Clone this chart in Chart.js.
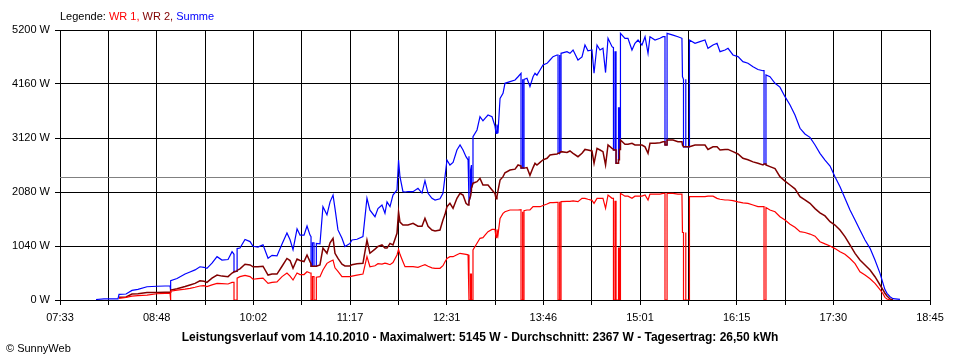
<!DOCTYPE html>
<html>
<head>
<meta charset="utf-8">
<script src="https://cdn.jsdelivr.net/npm/chart.js@4.4.0/dist/chart.umd.min.js"></script>
<style>
  html, body { margin: 0; padding: 0; background: #fff; }
  #wrap { position: relative; width: 960px; height: 360px; overflow: hidden; }
  canvas { position: absolute; left: 0; top: 0; }
  .txt { position: absolute; font-family: 'Liberation Sans', Arial, sans-serif; white-space: nowrap; color: #000; }
  #legend { left: 60px; top: 10px; font-size: 11px; line-height: 13px; }
  #title { left: 0; width: 960px; text-align: center; top: 330px; font-size: 12px; font-weight: bold; line-height: 14px; }
  #copy { left: 6px; top: 342px; font-size: 11px; line-height: 13px; }
</style>
</head>
<body>
<div id="wrap">
  <canvas id="c" width="960" height="360"></canvas>
  <div class="txt" id="legend">Legende: <span style="color:#ff0000">WR 1, </span><span style="color:#800000">WR 2, </span><span style="color:#0000ff">Summe</span></div>
  <div class="txt" id="title">Leistungsverlauf vom 14.10.2010 - Maximalwert: 5145 W - Durchschnitt: 2367 W - Tagesertrag: 26,50 kWh</div>
  <div class="txt" id="copy">© SunnyWeb</div>
</div>
<script>
// time axis in minutes since midnight (07:33 .. 18:45)
const X_MIN = 453;
const X_MAX = 1125;
const TICK_LABELS = ['07:33','08:48','10:02','11:17','12:31','13:46','15:01','16:15','17:30','18:45'];
const Y_MAX = 5200;
const Y_STEP = 1040;
const AVERAGE = 2367;

// sample times (minutes since midnight)
const times = [
480.8,487.0,497.8,498.6,504.0,508.6,513.2,520.2,527.9,534.1,
538.0,538.0,538.7,538.7,543.4,549.6,553.4,557.3,561.1,564.2,
566.5,570.4,574.3,578.1,582.8,585.9,587.4,587.4,589.8,589.8,
592.0,595.9,599.8,602.1,605.9,609.8,613.7,616.8,620.6,624.5,
628.3,630.7,633.0,636.1,638.4,641.5,643.8,646.1,646.9,646.9,
648.0,648.0,649.2,649.2,651.0,651.0,653.8,656.1,659.2,661.6,
663.9,665.4,667.7,670.8,673.1,677.0,678.5,682.4,687.0,690.1,
692.4,696.3,698.6,701.7,704.0,705.6,707.9,710.2,713.3,714.5,
715.6,717.9,719.5,721.8,725.7,729.5,732.6,734.9,737.3,740.3,
742.7,746.5,748.8,750.4,751.9,754.2,756.6,759.6,762.0,764.3,
766.6,768.2,768.9,768.9,770.1,770.1,770.8,770.8,772.0,772.0,
775.1,777.4,779.7,781.3,783.6,786.7,789.0,789.8,790.5,791.3,
792.9,795.2,796.7,800.6,804.5,806.8,809.1,809.1,809.9,809.9,
810.6,810.6,811.4,811.4,813.7,816.0,818.4,819.9,821.4,823.8,
826.1,829.2,831.5,833.8,836.9,837.7,837.7,838.5,838.5,839.2,
839.2,840.0,840.0,844.6,846.9,849.3,853.1,856.2,858.5,860.8,
863.9,865.5,867.8,870.1,872.4,874.4,876.3,879.4,880.5,880.5,
881.7,881.7,882.5,882.5,884.4,884.4,885.1,885.1,885.9,885.9,
889.4,891.7,894.8,897.1,899.5,902.5,904.9,907.2,908.7,912.6,
916.4,918.8,920.3,920.3,921.9,921.9,926.5,930.3,933.4,933.8,
934.6,934.6,936.1,936.1,936.5,936.5,939.2,939.2,943.5,947.3,
951.2,953.5,957.4,960.5,962.8,966.7,969.0,972.8,976.7,980.5,
984.4,988.3,992.1,996.0,996.8,996.8,998.3,998.3,1001.4,1005.3,
1009.1,1013.0,1016.9,1020.7,1024.6,1028.4,1032.3,1036.2,1040.0,1043.9,
1047.8,1051.6,1055.5,1059.3,1063.2,1067.1,1070.9,1074.8,1078.7,1082.5,
1086.4,1088.7,1090.2,1091.8,1094.1,1096.4,1101.8
];

// WR 1 (W)
const wr1 = [
null,null,null,30,50,75,85,95,120,128,
130,0,0,170,190,210,225,245,270,275,
257,290,320,315,308,340,340,0,0,420,
450,475,450,400,410,420,320,340,350,450,
520,460,385,520,490,490,545,520,520,0,
0,450,450,0,0,440,450,578,706,740,
770,620,550,450,449,450,460,480,500,835,
641,660,700,690,710,700,680,720,867,975,
880,738,641,641,641,630,660,680,650,620,
610,610,660,738,800,834,834,870,899,890,
880,870,870,0,0,500,500,0,0,963,
1092,1188,1200,1250,1316,1360,1360,1200,1360,1250,
1573,1669,1700,1733,1733,1733,1740,0,0,1700,
1700,0,0,1720,1733,1733,1797,1797,1797,1797,
1820,1849,1875,1875,1880,1880,0,0,1890,1890,
0,0,1894,1900,1900,1910,1894,1958,1958,1940,
1920,1862,1958,1958,1958,1766,2022,1958,1958,0,
0,1900,1900,0,0,1000,1000,0,0,2055,
2000,2000,1958,2000,2000,2000,2022,1926,2040,2040,
2040,2055,2055,0,0,2055,2055,2040,2040,1300,
1300,0,0,1300,1300,0,0,1990,1990,1990,
1990,2000,2000,1958,1940,1926,1926,1913,1890,1870,
1862,1830,1800,1797,1797,0,0,1780,1733,1700,
1605,1540,1460,1400,1316,1300,1270,1230,1123,1080,
1040,990,930,880,800,700,545,480,410,320,
200,120,51,20,0,null,null
];

// WR 2 (W)
const wr2 = [
null,null,null,55,60,115,120,145,145,150,
150,185,190,190,215,260,290,320,370,360,
340,420,480,460,450,520,540,545,555,570,
600,690,675,640,640,650,480,500,500,650,
800,760,610,790,760,740,866,740,700,650,
650,650,650,650,650,650,675,1000,900,1100,
1188,900,800,690,655,655,680,700,706,1155,
900,980,1030,1060,1000,1000,1090,1060,1284,1700,
1500,1444,1444,1444,1476,1420,1420,1573,1420,1348,
1330,1348,1541,1650,1797,1862,1766,1958,2055,2020,
1862,1830,1900,1900,2000,2000,2100,2150,2250,2250,
2279,2343,2215,2215,2215,2119,2050,1950,1990,2100,
2311,2375,2450,2504,2520,2600,2580,2540,2540,2540,
2540,2540,2540,2540,2550,2400,2550,2632,2600,2650,
2700,2730,2793,2800,2810,2825,2825,2825,2825,2825,
2825,2857,2857,2840,2870,2825,2760,2825,2900,2889,
2870,2632,2921,2889,2857,2600,2985,2921,2900,2889,
2889,2889,2889,2632,2632,2700,2700,2900,2900,3081,
3000,3000,3017,2985,2985,2985,2950,2825,3017,3017,
3030,3049,3049,2985,2985,3081,3081,3049,3049,2985,
2950,2950,2950,2950,2950,2950,2950,2950,2985,2985,
2985,2900,2950,2950,2889,2900,2900,2857,2812,2729,
2700,2660,2632,2600,2619,2619,2619,2600,2568,2530,
2375,2290,2215,2140,1990,1926,1862,1760,1680,1620,
1508,1444,1348,1220,1060,899,770,674,578,449,
289,193,130,77,20,0,null
];

// Summe (W)
const summe = [
10,20,20,110,115,185,205,255,265,270,
270,185,190,370,415,500,540,580,640,630,
610,710,835,770,780,930,880,545,555,990,
1000,1165,1125,1035,1020,1065,805,860,850,1080,
1290,1160,970,1370,1250,1250,1425,1250,1220,650,
650,1100,1100,650,650,1090,1080,1797,1640,1890,
2020,1766,1350,1190,1030,1090,1155,1170,1220,1960,
1730,1605,1760,1830,1670,1890,1800,2022,2119,2696,
2375,2086,2080,2090,2086,2151,2060,2298,2055,1958,
1926,1950,2055,2375,2696,2600,2650,2889,2985,2889,
2760,2700,2770,1900,2000,2500,2600,2150,2250,3145,
3274,3530,3450,3500,3563,3530,3350,3210,3380,3210,
3884,3980,4173,4205,4237,4300,4366,2540,2540,4250,
4250,2540,2540,4250,4270,4108,4300,4366,4330,4430,
4526,4559,4622,4687,4719,4719,2825,2825,4720,4720,
2825,2857,4751,4783,4750,4815,4622,4680,4911,4800,
4815,4366,4911,4815,4850,4380,5040,4879,4860,2889,
2889,4780,4780,2632,2632,3700,3700,2900,2900,5136,
5040,5040,4815,4944,5007,4911,5071,4751,5071,5007,
5040,5071,5071,2985,2985,5136,5100,5071,5040,4300,
4250,2950,2950,4250,4250,2950,2950,5007,4944,4975,
5007,4847,4911,4944,4783,4815,4847,4719,4687,4590,
4560,4494,4440,4416,4416,2619,2619,4333,4300,4173,
4100,3916,3756,3563,3307,3197,3133,2985,2825,2696,
2580,2375,2182,1958,1733,1541,1348,1155,995,770,
513,321,200,128,64,26,13
];

function series(values) {
  return times.map((t, i) => ({ x: t, y: values[i] }));
}

const averageLine = {
  id: 'averageLine',
  beforeDatasetsDraw(chart) {
    const { ctx, chartArea: a, scales: { y } } = chart;
    const py = Math.round(y.getPixelForValue(AVERAGE)) + 0.5;
    ctx.save();
    ctx.strokeStyle = '#808080';
    ctx.lineWidth = 1;
    ctx.beginPath();
    ctx.moveTo(a.left, py);
    ctx.lineTo(a.right, py);
    ctx.stroke();
    ctx.restore();
  }
};

Chart.defaults.font.family = "'Liberation Sans', Arial, sans-serif";
Chart.defaults.font.size = 11;
Chart.defaults.color = '#000';

const lineStyle = { pointRadius: 0, tension: 0, fill: false, spanGaps: false };

new Chart(document.getElementById('c'), {
  type: 'line',
  data: {
    datasets: [
      Object.assign({ label: 'WR 1', data: series(wr1), borderColor: '#ff0000', borderWidth: 1.2, order: 0 }, lineStyle),
      Object.assign({ label: 'WR 2', data: series(wr2), borderColor: '#800000', borderWidth: 1.5, order: 1 }, lineStyle),
      Object.assign({ label: 'Summe', data: series(summe), borderColor: '#0000ff', borderWidth: 1.2, order: 2 }, lineStyle)
    ]
  },
  options: {
    responsive: false,
    devicePixelRatio: 1,
    animation: false,
    parsing: true,
    layout: { padding: { top: 30, right: 30, left: 0, bottom: 0 } },
    plugins: { legend: { display: false }, tooltip: { enabled: false }, title: { display: false } },
    scales: {
      x: {
        type: 'linear',
        min: X_MIN,
        max: X_MAX,
        afterFit(scale) { scale.height = 60; },
        afterBuildTicks(scale) {
          const n = (TICK_LABELS.length - 1) * 2;
          scale.ticks = Array.from({ length: n + 1 }, (_, i) => ({ value: X_MIN + i * (X_MAX - X_MIN) / n }));
        },
        ticks: {
          autoSkip: false,
          maxRotation: 0,
          minRotation: 0,
          padding: 6,
          color: '#000',
          font: { size: 11 },
          callback(value, index) { return index % 2 === 0 ? TICK_LABELS[index / 2] : ''; }
        },
        grid: { color: '#000', lineWidth: 1, tickLength: 5, tickColor: '#000', drawTicks: true },
        border: { color: '#000', width: 1 }
      },
      y: {
        min: 0,
        max: Y_MAX,
        afterFit(scale) { scale.width = 60; },
        ticks: {
          stepSize: Y_STEP,
          padding: 5,
          color: '#000',
          font: { size: 11 },
          callback(value) { return value + ' W'; }
        },
        grid: { color: '#000', lineWidth: 1, tickLength: 5, tickColor: '#000', drawTicks: true },
        border: { color: '#000', width: 1 }
      }
    }
  },
  plugins: [averageLine]
});
</script>
</body>
</html>
